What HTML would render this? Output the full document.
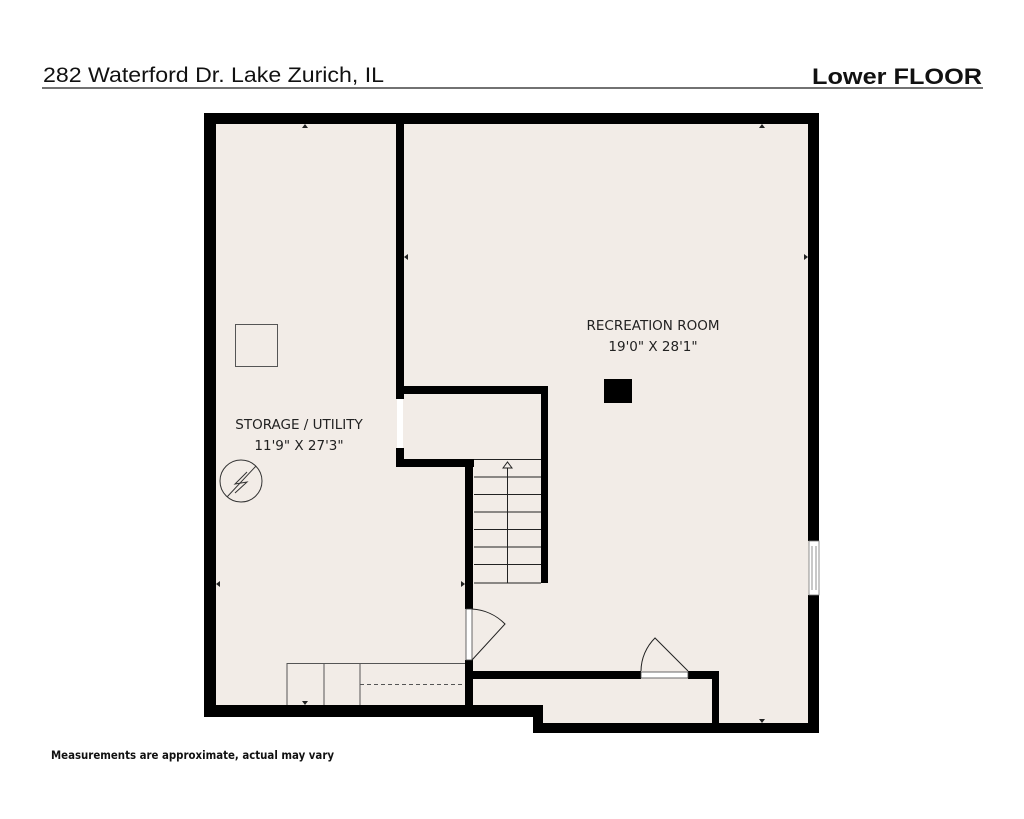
<!DOCTYPE html>
<html><head><meta charset="utf-8"><style>html,body{margin:0;padding:0;background:#fff}svg{display:block}</style></head>
<body>
<svg width="1024" height="819" viewBox="0 0 1024 819" xmlns="http://www.w3.org/2000/svg" font-family="Liberation Sans, sans-serif">
<rect width="1024" height="819" fill="#fff"/>
<text x="43" y="82" font-size="21" fill="#111" textLength="341" lengthAdjust="spacingAndGlyphs">282 Waterford Dr. Lake Zurich, IL</text>
<text x="812" y="84" font-size="22" font-weight="bold" fill="#111" textLength="170" lengthAdjust="spacingAndGlyphs">Lower FLOOR</text>
<line x1="42" y1="88" x2="983" y2="88" stroke="#444" stroke-width="1.5"/>
<!-- floor fill -->
<path d="M210,118 H814 V728 H538 V711 H210 Z" fill="#f2ece7"/>
<!-- outer walls -->
<g fill="#000">
<rect x="204" y="113" width="615" height="11"/>
<rect x="204" y="113" width="12" height="604"/>
<rect x="808" y="113" width="11" height="428"/>
<rect x="808" y="595" width="11" height="138"/>
<rect x="204" y="705" width="339" height="12"/>
<rect x="533" y="705" width="10" height="28"/>
<rect x="533" y="723" width="286" height="10"/>
<!-- interior -->
<rect x="396" y="113" width="8" height="286"/>
<rect x="396" y="386" width="152" height="8"/>
<rect x="541" y="386" width="7" height="197"/>
<rect x="396" y="448" width="8" height="19"/>
<rect x="396" y="459" width="78" height="8"/>
<rect x="465" y="459" width="8" height="150"/>
<rect x="465" y="660" width="8" height="57"/>
<rect x="470" y="671" width="171" height="8"/>
<rect x="688" y="671" width="31" height="8"/>
<rect x="712" y="671" width="7" height="57"/>
<rect x="604" y="379" width="28" height="24"/>
</g>
<!-- door gap -->
<rect x="397" y="399" width="6" height="49" fill="#fff"/>
<!-- window right -->
<rect x="809" y="541" width="10" height="54" fill="#fff" stroke="#777" stroke-width="0.8"/>
<line x1="812" y1="546" x2="812" y2="590" stroke="#777" stroke-width="0.8"/>
<line x1="816" y1="546" x2="816" y2="590" stroke="#777" stroke-width="0.8"/>
<!-- stairs -->
<g stroke="#222" stroke-width="1" fill="none">
<line x1="474" y1="459.5" x2="541" y2="459.5"/>
<line x1="474" y1="477" x2="541" y2="477"/>
<line x1="474" y1="494.5" x2="541" y2="494.5"/>
<line x1="474" y1="512" x2="541" y2="512"/>
<line x1="474" y1="529.5" x2="541" y2="529.5"/>
<line x1="474" y1="547" x2="541" y2="547"/>
<line x1="474" y1="564.5" x2="541" y2="564.5"/>
<line x1="474" y1="583" x2="541" y2="583"/>
<line x1="507.5" y1="464" x2="507.5" y2="583"/>
<path d="M503,468 L507.5,462 L512,468 Z" fill="#f2ece7"/>
</g>
<!-- door 1 -->
<rect x="466" y="609" width="6" height="51" fill="#fff" stroke="#444" stroke-width="0.8"/>
<path d="M472,609 A50,50 0 0 1 505,624 L472,660" fill="none" stroke="#222" stroke-width="1"/>
<!-- door 2 -->
<rect x="641" y="672" width="47" height="6" fill="#fff" stroke="#444" stroke-width="0.8"/>
<path d="M641,671 A47,47 0 0 1 655,638 L688,671" fill="none" stroke="#222" stroke-width="1"/>
<!-- cabinets -->
<g stroke="#555" stroke-width="1" fill="none">
<path d="M287,705 V663.5 H465"/>
<line x1="324" y1="663" x2="324" y2="705"/>
<line x1="360" y1="663" x2="360" y2="705"/>
<line x1="360" y1="684.5" x2="465" y2="684.5" stroke-dasharray="4,3"/>
</g>
<!-- furnace etc -->
<rect x="235.5" y="324.5" width="42" height="42" fill="none" stroke="#555" stroke-width="1"/>
<circle cx="241" cy="481" r="21" fill="none" stroke="#333" stroke-width="1"/>
<line x1="227" y1="497" x2="256" y2="466" stroke="#333" stroke-width="1"/>
<path d="M247,472 L235,484 L247,482 L235,493" fill="none" stroke="#333" stroke-width="1"/>
<!-- small markers -->
<g fill="#222">
<path d="M305,124 l-3,4 h6z"/><path d="M762,124 l-3,4 h6z"/>
<path d="M404,257 l4,-3 v6z"/><path d="M808,257 l-4,-3 v6z"/>
<path d="M216,584 l4,-3 v6z"/><path d="M465,584 l-4,-3 v6z"/>
<path d="M305,705 l-3,-4 h6z"/><path d="M762,723 l-3,-4 h6z"/>
</g>
<!-- labels -->
<g font-family="DejaVu Sans, sans-serif" font-size="13.5" fill="#222" text-anchor="middle">
<text x="653" y="330">RECREATION ROOM</text>
<text x="653" y="351">19'0" X 28'1"</text>
<text x="299" y="429">STORAGE / UTILITY</text>
<text x="299" y="450">11'9" X 27'3"</text>
</g>
<text x="51" y="759" font-family="DejaVu Sans, sans-serif" font-size="11.5" font-weight="bold" fill="#111" textLength="283" lengthAdjust="spacingAndGlyphs">Measurements are approximate, actual may vary</text>
</svg>
</body></html>
